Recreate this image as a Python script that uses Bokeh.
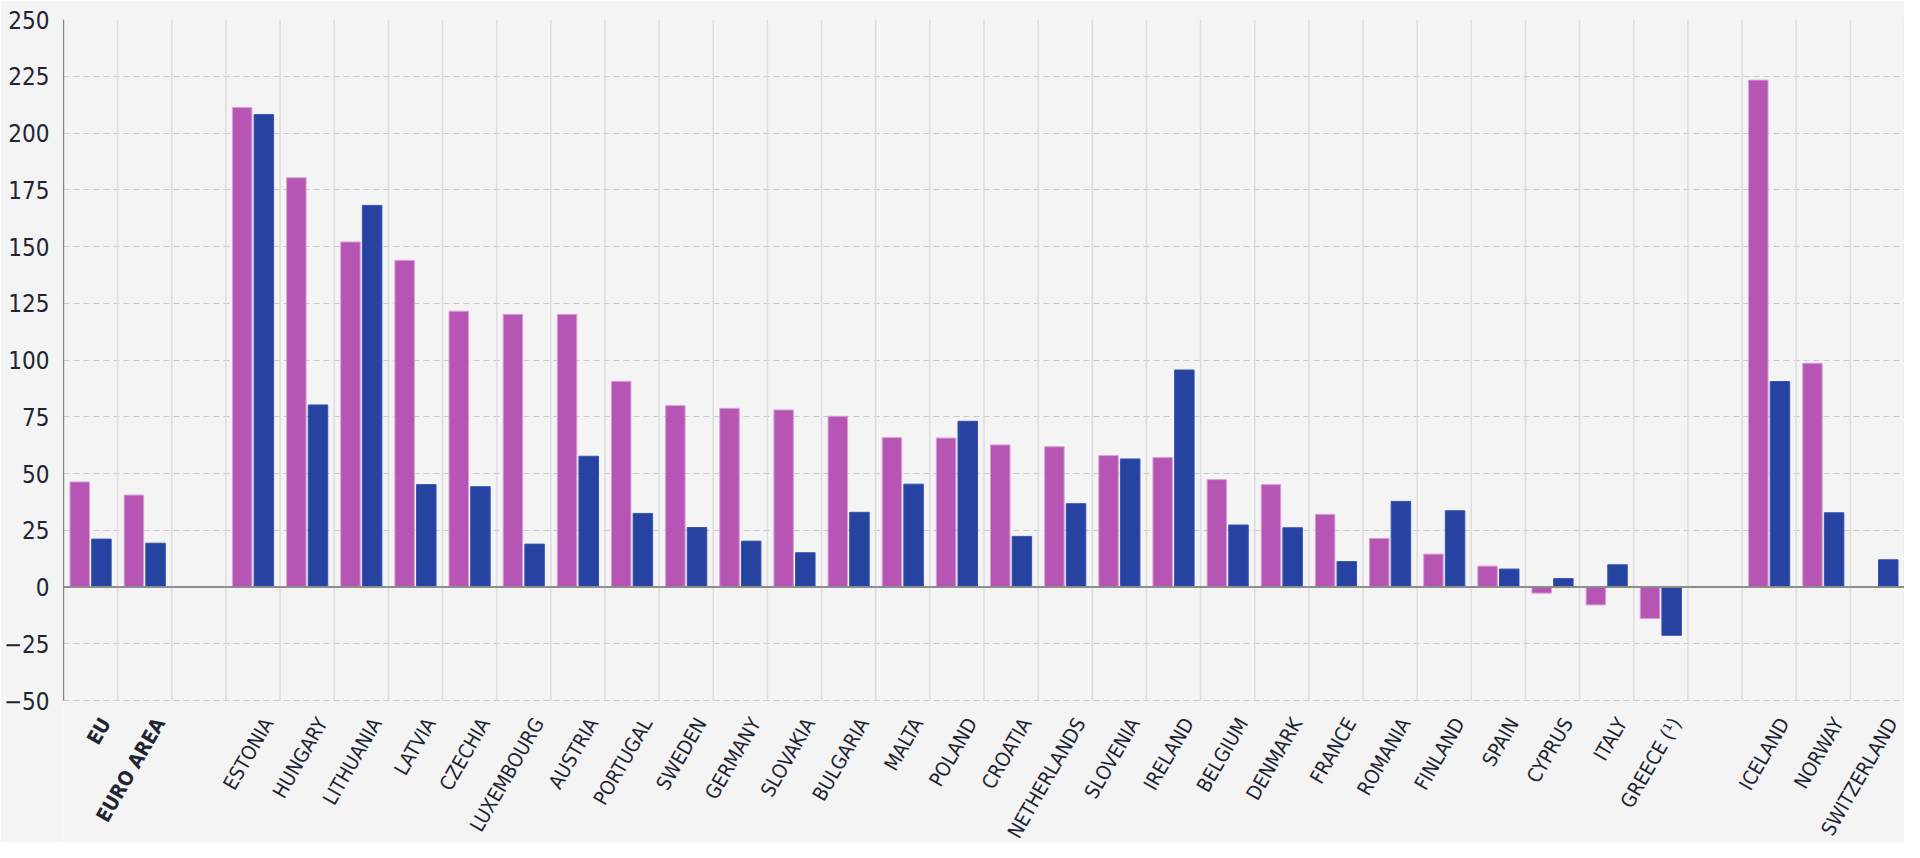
import math
from bokeh.plotting import figure
from bokeh.models import ColumnDataSource, FactorRange, FixedTicker, Label, Span, Range1d
from bokeh.transform import dodge
from bokeh.embed import file_html
from bokeh.resources import INLINE

countries = ["EU", "EURO AREA", " ", "ESTONIA", "HUNGARY", "LITHUANIA", "LATVIA", "CZECHIA",
             "LUXEMBOURG", "AUSTRIA", "PORTUGAL", "SWEDEN", "GERMANY", "SLOVAKIA", "BULGARIA",
             "MALTA", "POLAND", "CROATIA", "NETHERLANDS", "SLOVENIA", "IRELAND", "BELGIUM",
             "DENMARK", "FRANCE", "ROMANIA", "FINLAND", "SPAIN", "CYPRUS", "ITALY", "GREECE (¹)",
             "  ", "ICELAND", "NORWAY", "SWITZERLAND"]
bold_labels = ["EU", "EURO AREA"]

series_pink = [46.3, 40.5, None, 211.2, 180.3, 152.0, 143.9, 121.5, 120.1, 120.1, 90.6, 79.9,
               78.7, 78.0, 75.2, 65.8, 65.6, 62.6, 61.8, 57.9, 57.0, 47.3, 45.1, 32.0, 21.4,
               14.5, 9.2, -2.7, -7.9, -13.9, None, 223.3, 98.6, None]
series_blue = [21.1, 19.3, None, 208.1, 80.2, 168.1, 45.1, 44.2, 18.9, 57.6, 32.4, 26.2,
               20.2, 15.1, 32.9, 45.3, 73.0, 22.3, 36.7, 56.4, 95.6, 27.3, 26.1, 11.2, 37.7,
               33.6, 7.9, 3.7, 9.8, -21.3, None, 90.5, 32.7, 12.0]

y_ticks = [-50, -25, 0, 25, 50, 75, 100, 125, 150, 175, 200, 225, 250]

PINK = "#b755b5"
BLUE = "#2643a1"
BG = "#f4f4f4"
TXT = "#1e2533"
FONT = "DejaVu Sans Condensed"

# geometry: visible chart area is 681 px tall for the y span; label room below it
H, TOP, PLOT_H = 842, 19, 681
y_lo_vis, y_hi = y_ticks[0], y_ticks[-1]
units_per_px = (y_hi - y_lo_vis) / PLOT_H
y_lo = y_lo_vis - (H - TOP - PLOT_H) * units_per_px

p = figure(x_range=FactorRange(factors=countries, range_padding=0),
           y_range=Range1d(y_lo, y_hi),
           width=1904, height=H, output_backend="svg", toolbar_location=None,
           min_border_left=56, min_border_right=0, min_border_top=TOP, min_border_bottom=0,
           background_fill_color=BG, border_fill_color=BG, outline_line_color=None)

pink_src = ColumnDataSource(dict(
    x=[c for c, v in zip(countries, series_pink) if v is not None],
    top=[v for v in series_pink if v is not None]))
blue_src = ColumnDataSource(dict(
    x=[c for c, v in zip(countries, series_blue) if v is not None],
    top=[v for v in series_blue if v is not None]))

# grids
p.ygrid.ticker = FixedTicker(ticks=y_ticks)
p.ygrid.grid_line_color = "#c9c9c9"
p.ygrid.grid_line_dash = "6 4"
p.ygrid.grid_line_width = 1
p.xgrid.visible = False
bounds = list(range(1, len(countries) + 1))
p.segment(x0=bounds, x1=bounds, y0=[y_lo_vis] * len(bounds), y1=[y_hi] * len(bounds),
          line_color="#dcdcdc", line_width=1.5)

p.vbar(x=dodge("x", -0.2, range=p.x_range), top="top", bottom=0, width=0.36, source=pink_src,
       fill_color=PINK, line_color="#d9a0d6", line_width=1)
p.vbar(x=dodge("x", 0.2, range=p.x_range), top="top", bottom=0, width=0.36, source=blue_src,
       fill_color=BLUE, line_color="#3552b0", line_width=1)

p.add_layout(Span(location=0, dimension="width", line_color="#8c8c8c", line_width=2))

# y axis (line drawn only over the visible span)
p.segment(x0=[0], x1=[0], y0=[y_lo_vis], y1=[y_hi], line_color="#111111", line_width=1.2)
p.yaxis.ticker = FixedTicker(ticks=y_ticks)
p.yaxis.axis_line_color = None
p.yaxis.major_tick_line_color = None
p.yaxis.major_tick_out = 0
p.yaxis.major_tick_in = 0
p.yaxis.minor_tick_line_color = None
p.yaxis.major_label_standoff = 14
p.yaxis.major_label_text_font = FONT
p.yaxis.major_label_text_font_size = "24px"
p.yaxis.major_label_text_color = TXT

p.xaxis.visible = False

# category labels: one rotated label per category, at the category's centre
angle = math.radians(60)
for i, c in enumerate(countries):
    if not c.strip():
        continue
    p.add_layout(Label(x=i + 0.5, y=y_lo_vis, text=c, angle=angle,
                       x_offset=15, y_offset=-19, text_align="right", text_baseline="middle",
                       text_font=FONT, text_font_size="20px",
                       text_font_style="bold" if c in bold_labels else "normal",
                       text_color=TXT))

html = file_html(p, INLINE).replace("<body>", '<body style="background-color:#f4f4f4;">', 1)
open("out.html", "w").write(html)
